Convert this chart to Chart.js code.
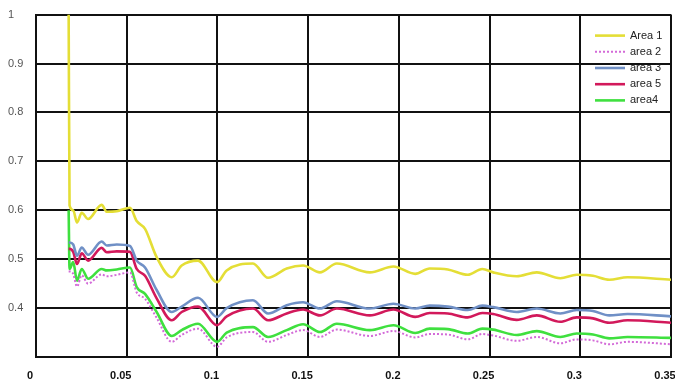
<!DOCTYPE html>
<html>
<head>
<meta charset="utf-8">
<script src="https://cdn.jsdelivr.net/npm/chart.js@4/dist/chart.umd.min.js"></script>
<style>
  html, body { margin: 0; padding: 0; background: #fff; }
  #wrap { width: 675px; height: 385px; }
</style>
</head>
<body>
<div id="wrap"><canvas id="chart"></canvas></div>
<script>
// x positions shared by every curve
const xs = [0.018, 0.0185, 0.0205, 0.0226, 0.0252, 0.0287, 0.0362, 0.039, 0.0445, 0.0518,
  0.0555, 0.0601, 0.0665, 0.0748, 0.0803, 0.0893, 0.0998, 0.1051, 0.1196, 0.1279,
  0.1382, 0.1472, 0.1565, 0.1658, 0.184, 0.197, 0.209, 0.217, 0.227, 0.238,
  0.246, 0.252, 0.265, 0.276, 0.289, 0.298, 0.307, 0.316, 0.326, 0.35];

const seriesNames = ["Area 1", "area 2", "area 3", "area 5", "area4"];

const area1 = [1.0, 0.61, 0.6, 0.575, 0.595, 0.582, 0.611, 0.597, 0.598, 0.605,
  0.578, 0.562, 0.504, 0.463, 0.487, 0.497, 0.453, 0.477, 0.491, 0.462,
  0.481, 0.487, 0.473, 0.491, 0.473, 0.485, 0.470, 0.481, 0.479, 0.468,
  0.480, 0.473, 0.465, 0.473, 0.461, 0.468, 0.466, 0.458, 0.463, 0.458];
const area2 = [0.475, 0.475, 0.47, 0.444, 0.467, 0.450, 0.469, 0.465, 0.468, 0.473,
  0.432, 0.419, 0.380, 0.331, 0.345, 0.358, 0.321, 0.340, 0.351, 0.331,
  0.345, 0.355, 0.341, 0.356, 0.343, 0.353, 0.340, 0.347, 0.346, 0.336,
  0.347, 0.344, 0.333, 0.341, 0.328, 0.336, 0.334, 0.326, 0.331, 0.326];
const area3 = [0.534, 0.534, 0.53, 0.507, 0.524, 0.509, 0.536, 0.528, 0.530, 0.527,
  0.497, 0.483, 0.437, 0.392, 0.403, 0.421, 0.382, 0.400, 0.416, 0.389,
  0.406, 0.412, 0.399, 0.414, 0.399, 0.409, 0.399, 0.405, 0.403, 0.396,
  0.405, 0.402, 0.392, 0.399, 0.389, 0.396, 0.394, 0.385, 0.388, 0.383];
const area5 = [0.521, 0.521, 0.515, 0.490, 0.512, 0.497, 0.523, 0.514, 0.516, 0.515,
  0.480, 0.466, 0.420, 0.375, 0.392, 0.403, 0.365, 0.383, 0.399, 0.375,
  0.389, 0.397, 0.385, 0.399, 0.385, 0.397, 0.382, 0.390, 0.389, 0.381,
  0.390, 0.388, 0.376, 0.385, 0.372, 0.381, 0.379, 0.370, 0.375, 0.370];
const area4 = [0.6, 0.48, 0.494, 0.456, 0.480, 0.460, 0.480, 0.477, 0.479, 0.483,
  0.443, 0.429, 0.392, 0.343, 0.355, 0.368, 0.331, 0.350, 0.361, 0.341,
  0.355, 0.367, 0.351, 0.368, 0.355, 0.365, 0.349, 0.358, 0.357, 0.348,
  0.358, 0.356, 0.345, 0.353, 0.341, 0.348, 0.346, 0.338, 0.341, 0.339];

const colors = ["#e4de36", "#d36ad8", "#7090c6", "#d2195b", "#3fe03f"];

function toPoints(ys) {
  return ys.map((y, i) => ({ x: xs[i], y: y }));
}

// legend drawn inside the plot, top right, with no box
const insideLegend = {
  id: "insideLegend",
  afterDraw(chart) {
    const ctx = chart.ctx;
    const area = chart.chartArea;
    ctx.save();
    ctx.font = "11px 'Liberation Sans Narrow', 'Liberation Sans', sans-serif";
    ctx.textBaseline = "middle";
    chart.data.datasets.forEach((ds, i) => {
      const y = area.top + 21 + i * 16.2;
      const x0 = area.right - 76;
      ctx.strokeStyle = ds.borderColor;
      ctx.lineWidth = ds.borderWidth;
      ctx.setLineDash(ds.borderDash || []);
      ctx.beginPath();
      ctx.moveTo(x0, y);
      ctx.lineTo(x0 + 30, y);
      ctx.stroke();
      ctx.setLineDash([]);
      ctx.fillStyle = "#222";
      ctx.fillText(ds.label, x0 + 35, y);
    });
    ctx.restore();
  }
};

const seriesValues = [area1, area2, area3, area5, area4];

new Chart(document.getElementById("chart"), {
  type: "line",
  data: {
    datasets: seriesNames.map((name, i) => ({
      label: name,
      data: toPoints(seriesValues[i]),
      borderColor: colors[i],
      borderWidth: i === 1 ? 2 : 2.6,
      borderDash: i === 1 ? [2, 2] : [],
      pointRadius: 0,
      cubicInterpolationMode: "monotone",
      fill: false
    }))
  },
  options: {
    responsive: true,
    maintainAspectRatio: false,
    animation: false,
    layout: { padding: { top: 12, right: 4, left: 8, bottom: 0 } },
    plugins: {
      legend: { display: false },
      tooltip: { enabled: false }
    },
    scales: {
      x: {
        type: "linear",
        min: 0,
        max: 0.35,
        grid: { color: "#111", lineWidth: 2, drawTicks: false },
        border: { color: "#111", width: 2 },
        ticks: {
          stepSize: 0.05,
          autoSkip: false,
          maxRotation: 0,
          padding: 12,
          labelOffset: -6,
          color: "#111",
          font: { family: "'Liberation Sans', Arial, sans-serif", size: 11, weight: "bold" },
          callback: (v) => String(Math.round(v * 100) / 100)
        },
        afterFit(scale) {
          scale.height = 28;
          scale.paddingLeft = 0;
          scale.paddingRight = 0;
        }
      },
      y: {
        min: 0.3,
        max: 1,
        grid: { color: "#111", lineWidth: 2, drawTicks: false },
        border: { color: "#111", width: 2 },
        ticks: {
          stepSize: 0.1,
          crossAlign: "far",
          padding: 8,
          color: "#555",
          font: { family: "'Liberation Sans Narrow', 'Liberation Sans', sans-serif", size: 11 },
          callback: (v) => (v < 0.35 ? "" : String(Math.round(v * 10) / 10))
        },
        afterFit(scale) {
          scale.width = 28;
        }
      }
    }
  },
  plugins: [insideLegend]
});
</script>
</body>
</html>
